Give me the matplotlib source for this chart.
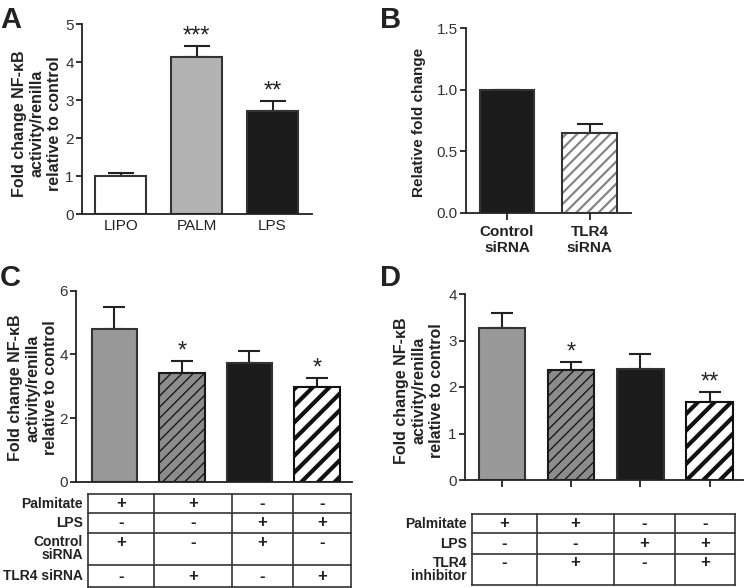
import numpy as np
import matplotlib
matplotlib.use("Agg")
import matplotlib.pyplot as plt

plt.rcParams['font.family'] = ['Liberation Sans', 'DejaVu Sans']
plt.rcParams['axes.linewidth'] = 1.3

# --- data ---
a_labels = ['LIPO', 'PALM', 'LPS']
a_vals = [1.0, 4.13, 2.71]
a_err = [0.08, 0.30, 0.26]
a_sig = ['', '***', '**']

b_labels = ['Control\nsiRNA', 'TLR4\nsiRNA']
b_vals = [1.0, 0.65]
b_err = [0.0, 0.075]

c_vals = [4.79, 3.40, 3.72, 2.97]
c_err = [0.71, 0.40, 0.39, 0.28]
c_sig = ['', '*', '', '*']

d_vals = [3.26, 2.37, 2.39, 1.68]
d_err = [0.34, 0.17, 0.31, 0.22]
d_sig = ['', '*', '', '**']

c_rows = ['Palmitate', 'LPS', 'Control\nsiRNA', 'TLR4 siRNA']
c_table = [['+', '+', '-', '-'],
           ['-', '-', '+', '+'],
           ['+', '-', '+', '-'],
           ['-', '+', '-', '+']]
d_rows = ['Palmitate', 'LPS', 'TLR4\ninhibitor']
d_table = [['+', '+', '-', '-'],
           ['-', '-', '+', '+'],
           ['-', '+', '-', '+']]

ylab = 'Fold change NF-κB\nactivity/renilla\nrelative to control'

W, H = 746, 588
fig = plt.figure(figsize=(W / 100, H / 100), dpi=100)

DARK = '#222222'
EDGE = '#333333'


def px_axes(x0, y0, x1, y1):
    return fig.add_axes([x0 / W, 1 - y1 / H, (x1 - x0) / W, (y1 - y0) / H])


def style(ax, xticks=False):
    for s in ['top', 'right']:
        ax.spines[s].set_visible(False)
    for s in ['left', 'bottom']:
        ax.spines[s].set_color(DARK)
    ax.tick_params(axis='y', direction='out', length=4, width=1.3,
                   colors=DARK, labelsize=11, pad=2)
    ax.tick_params(axis='y', labelcolor='#333333')
    ax.tick_params(axis='x', direction='out', length=5 if xticks else 0,
                   width=1.3, colors=DARK, labelsize=11)


def errs(ax, x, vals, err, cap):
    ax.errorbar(x, vals, yerr=[np.zeros(len(vals)), err], fmt='none',
                ecolor=DARK, elinewidth=1.5, capsize=cap, capthick=1.5, zorder=1)


def stars(ax, x, vals, err, sig):
    for xi, v, e, s in zip(x, vals, err, sig):
        if s:
            ax.annotate(s, (xi, v + e), xytext=(0, -1), textcoords='offset points',
                        ha='center', va='bottom', fontsize=17, color=DARK)


def ylabel(ax, text, size, right_px, ax_left, ax_w, yfrac):
    ax.set_ylabel(text, fontsize=size, fontweight='bold', color=DARK,
                  linespacing=1.2)
    ax.yaxis.set_label_coords((right_px - ax_left) / ax_w, yfrac)


# --- A ---
ax = px_axes(82, 24, 312, 214)
x = np.arange(3)
errs(ax, x, a_vals, a_err, 9.5)
ax.bar(x, a_vals, width=0.67, color=['white', '#b3b3b3', '#1c1c1c'],
       edgecolor=EDGE, linewidth=1.5, zorder=2)
stars(ax, x, a_vals, a_err, a_sig)
ax.set_xlim(-0.51, 2.52)
ax.set_ylim(0, 5)
ax.set_yticks(range(6))
ax.set_xticks(x, a_labels)
style(ax)
ylabel(ax, ylab, 11.5, 62, 82, 230, 0.476)

# --- B ---
ax = px_axes(466, 28.3, 631, 212.7)
x = np.arange(2)
errs(ax, x, b_vals, b_err, 9.5)
ax.bar(x[:1], b_vals[:1], width=0.66, color='#1c1c1c', edgecolor=EDGE,
       linewidth=1.5, zorder=2)
with plt.rc_context({'hatch.linewidth': 1.6}):
    ax.bar(x[1:], b_vals[1:], width=0.66, color='white', edgecolor='#858585',
           hatch='///', linewidth=0, zorder=2)
ax.bar(x[1:], b_vals[1:], width=0.66, fill=False, edgecolor=EDGE,
       linewidth=1.5, zorder=3)
ax.set_xlim(-0.497, 1.503)
ax.set_ylim(0, 1.5)
ax.set_yticks([0, 0.5, 1.0, 1.5], ['0.0', '0.5', '1.0', '1.5'])
ax.set_xticks(x, b_labels)
style(ax, xticks=True)
for t in ax.get_xticklabels():
    t.set_fontweight('bold')
ylabel(ax, 'Relative fold change', 11, 426, 466, 165, 0.49)


def hatched_four(ax, vals):
    x = np.arange(4)
    ax.bar(x[0], vals[0], width=0.67, color='#999999', edgecolor=EDGE,
           linewidth=1.5, zorder=2)
    ax.bar(x[1], vals[1], width=0.67, color='#8c8c8c', edgecolor='#1a1a1a',
           hatch='///', linewidth=1.5, zorder=2)
    ax.bar(x[2], vals[2], width=0.67, color='#1c1c1c', edgecolor=EDGE,
           linewidth=1.5, zorder=2)
    with plt.rc_context({'hatch.linewidth': 3.0}):
        ax.bar(x[3], vals[3], width=0.67, color='white', edgecolor='#111111',
               hatch='//', linewidth=1.5, zorder=2)
    return x


# --- C ---
ax = px_axes(76, 290.7, 352, 481.7)
x = np.arange(4)
errs(ax, x, c_vals, c_err, 8)
hatched_four(ax, c_vals)
stars(ax, x, c_vals, c_err, c_sig)
ax.set_xlim(-0.57, 3.52)
ax.set_ylim(0, 6)
ax.set_yticks([0, 2, 4, 6])
ax.set_xticks([])
style(ax)
ylabel(ax, ylab, 11.5, 58, 76, 276, 0.49)

# --- D ---
ax = px_axes(465, 294, 743, 480)
errs(ax, x, d_vals, d_err, 8)
hatched_four(ax, d_vals)
stars(ax, x, d_vals, d_err, d_sig)
ax.set_xlim(-0.53, 3.48)
ax.set_ylim(0, 4)
ax.set_yticks(range(5))
ax.set_xticks(x, [''] * 4)
style(ax, xticks=True)
ylabel(ax, ylab, 11.5, 444, 465, 278, 0.48)

# --- overlay for panel letters and condition tables (pixel coords) ---
ov = fig.add_axes([0, 0, 1, 1])
ov.set_xlim(0, W)
ov.set_ylim(H, 0)
ov.axis('off')
ov.patch.set_alpha(0)

for lab, (lx, ly) in zip('ABCD', [(0, 28), (380, 28), (0, 286), (380, 286)]):
    ov.text(lx, ly, lab, fontsize=21, fontweight='bold', color=DARK,
            ha='left', va='baseline')


def draw_table(rows, table, xs, ys, two_line):
    for xv in xs:
        ov.plot([xv, xv], [ys[0], ys[-1]], color='#333333', lw=1.2)
    for yv in ys:
        ov.plot([xs[0], xs[-1]], [yv, yv], color='#333333', lw=1.2)
    for i, (name, vals) in enumerate(zip(rows, table)):
        if i in two_line:
            ty = ys[i] + 9
            for k, part in enumerate(name.split('\n')):
                ov.text(xs[0] - 5, ty + 13 * k, part, ha='right', va='center',
                        fontsize=10, fontweight='bold', color=DARK)
        else:
            ty = (ys[i] + ys[i + 1]) / 2
            ov.text(xs[0] - 5, ty, name, ha='right', va='center',
                    fontsize=10, fontweight='bold', color=DARK)
        for j, v in enumerate(vals):
            cx = (xs[j] + xs[j + 1]) / 2
            ov.text(cx, ty, v, ha='center', va='center', fontsize=12,
                    fontweight='bold', color=DARK)


draw_table(c_rows, c_table, [88, 154, 232, 293, 351],
           [494, 513, 533, 565, 587], two_line=[2])
draw_table(d_rows, d_table, [472, 537, 614, 675, 735],
           [514, 533, 554, 585], two_line=[2])

fig.savefig('out.png', dpi=100)
